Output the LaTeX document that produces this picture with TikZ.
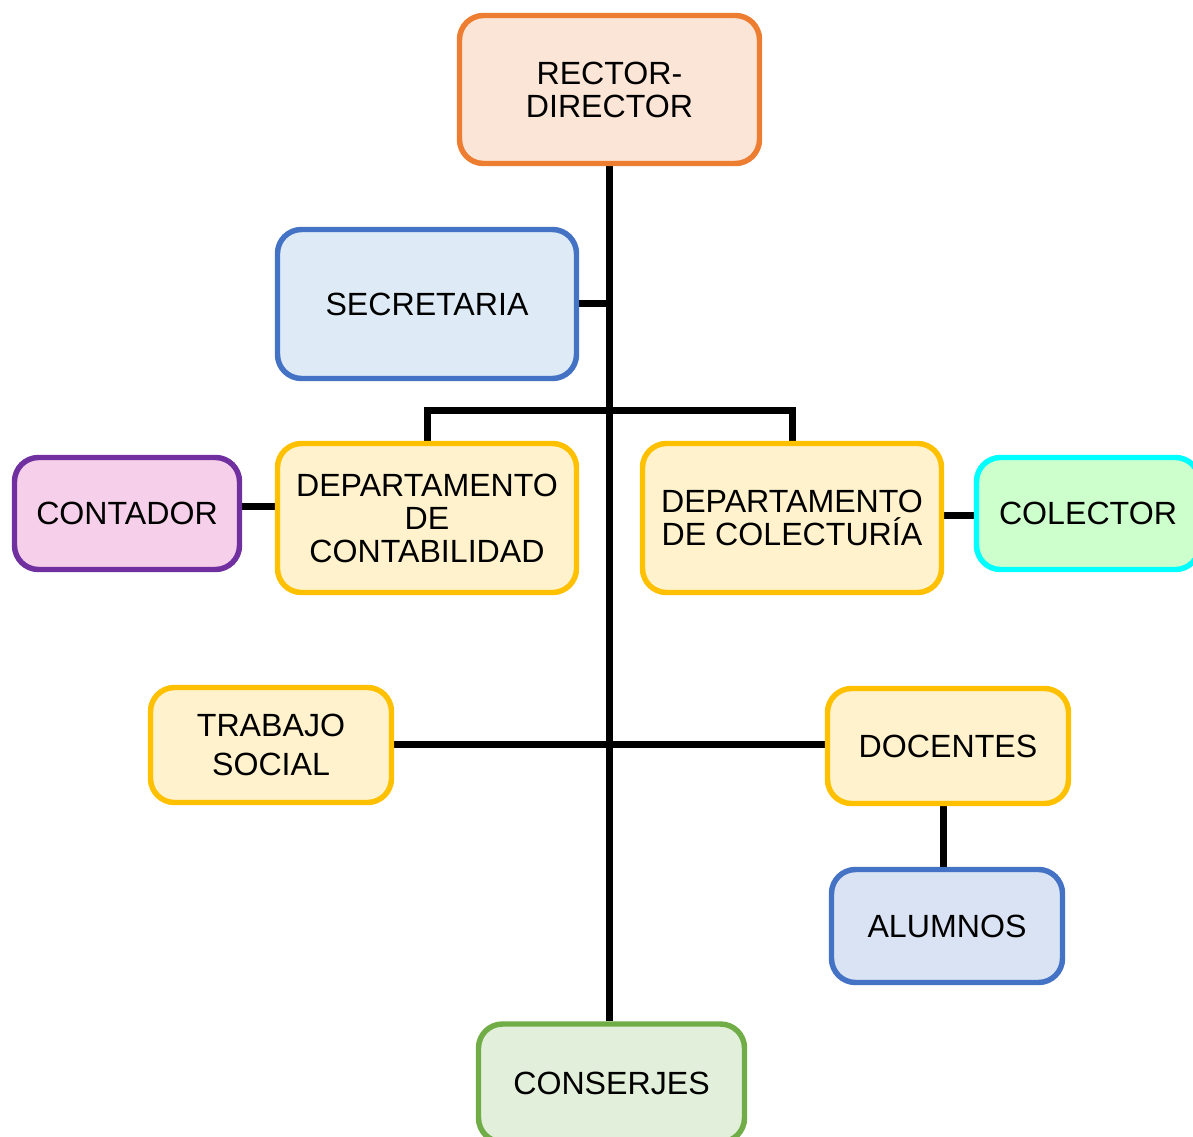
\documentclass[tikz,border=0pt]{standalone}
\usepackage{fontspec}
\setmainfont{Liberation Sans}
\usetikzlibrary{backgrounds}
\definecolor{orangeB}{HTML}{ED7D31}\definecolor{orangeF}{HTML}{FBE5D6}
\definecolor{blueB}{HTML}{4472C4}\definecolor{blueF}{HTML}{DEEBF7}\definecolor{blueF2}{HTML}{DAE3F3}
\definecolor{purpB}{HTML}{7030A0}\definecolor{pinkF}{HTML}{F6D0EA}
\definecolor{yelB}{HTML}{FFC000}\definecolor{yelF}{HTML}{FFF2CC}
\definecolor{cyanB}{HTML}{00FFFF}\definecolor{mintF}{HTML}{CCFFCC}
\definecolor{greenB}{HTML}{70AD47}\definecolor{greenF}{HTML}{E2EFDA}
\tikzset{
  orgbox/.style={draw, rounded corners=18pt, line width=4.1pt, align=center, inner sep=0pt,
    font=\fontsize{24.1}{24.75}\selectfont},
  link/.style={line width=5.25pt, black}
}
\begin{document}
\begin{tikzpicture}[x=0.75pt,y=-0.75pt]
\useasboundingbox (0,0) rectangle (1193,1137);
\clip (0,0) rectangle (1193,1137);
\node[orgbox, draw=orangeB, fill=orangeF, minimum width=225pt, minimum height=111pt] (rector) at (609.5,89.5) {RECTOR-\\DIRECTOR};
\node[orgbox, draw=blueB, fill=blueF, minimum width=224.25pt, minimum height=111.75pt] (secretaria) at (427,304) {SECRETARIA};
\node[orgbox, draw=purpB, fill=pinkF, minimum width=168.75pt, minimum height=84pt] (contador) at (127,513.5) {CONTADOR};
\node[orgbox, draw=yelB, fill=yelF, minimum width=224.25pt, minimum height=111.75pt] (depcont) at (427,518) {DEPARTAMENTO\\DE\\CONTABILIDAD};
\node[orgbox, draw=yelB, fill=yelF, minimum width=224.25pt, minimum height=111.75pt] (depcol) at (792,518) {DEPARTAMENTO\\DE COLECTURÍA};
\node[orgbox, draw=cyanB, fill=mintF, minimum width=167.25pt, minimum height=84pt] (colector) at (1088,513.5) {COLECTOR};
\node[orgbox, draw=yelB, fill=yelF, minimum width=180.75pt, minimum height=86.25pt, font=\fontsize{24.1}{29.25}\selectfont] (trabajo) at (271,745) {TRABAJO\\SOCIAL};
\node[orgbox, draw=yelB, fill=yelF, minimum width=180.75pt, minimum height=86.25pt] (docentes) at (948,746) {DOCENTES};
\node[orgbox, draw=blueB, fill=blueF2, minimum width=173.25pt, minimum height=84.75pt] (alumnos) at (947,926) {ALUMNOS};
\node[orgbox, draw=greenB, fill=greenF, minimum width=199.5pt, minimum height=88.5pt] (conserjes) at (611.5,1083) {CONSERJES};
\coordinate (bar) at (609,411);
\begin{scope}[on background layer]
\draw[link] (rector.south -| bar) -- (conserjes.north -| bar);
\draw[link] (secretaria.east) -- (secretaria.east -| bar);
\draw[link] (depcont.north) |- (depcol.north |- bar) -- (depcol.north);
\draw[link] ([yshift=5pt]contador.east) -- ([yshift=5pt]contador.east -| depcont.west);
\draw[link] ([yshift=2pt]depcol.east) -- ([yshift=2pt]depcol.east -| colector.west);
\draw[link] ([yshift=0.75pt]trabajo.east) -- ([yshift=0.75pt]trabajo.east -| docentes.west);
\draw[link] (alumnos.north -| 943,0) -- (docentes.south -| 943,0);
\end{scope}
\end{tikzpicture}
\end{document}
